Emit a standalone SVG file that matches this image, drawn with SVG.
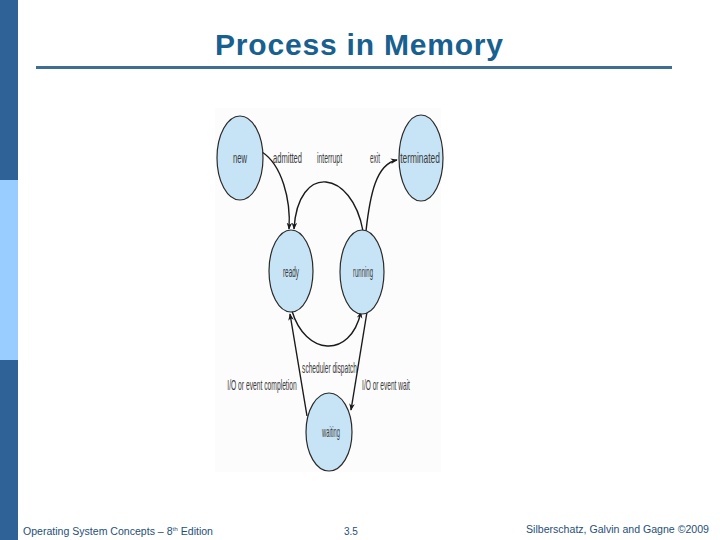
<svg xmlns="http://www.w3.org/2000/svg" width="720" height="540" viewBox="0 0 720 540">
<style>
.node ellipse{fill:#c6e4f6;stroke:#2a2a2a;stroke-width:1.2}
.node text,.lbl{font-family:"Liberation Sans",Arial,sans-serif;font-size:14px;fill:#3a3a3a;text-anchor:middle}
.edge{fill:none;stroke:#1a1a1a;stroke-width:1.4;marker-end:url(#arr)}
.foot{font-family:"Liberation Sans",Arial,sans-serif;font-size:10px;fill:#1f4f7a}
</style>
<defs>
<marker id="arr" viewBox="0 0 10 10" refX="9" refY="5" markerWidth="7" markerHeight="7" orient="auto" markerUnits="userSpaceOnUse">
<path d="M0,1 L10,5 L0,9 L3,5 Z" fill="#1a1a1a"/>
</marker>
</defs>
<rect width="720" height="540" fill="#ffffff"/>
<rect x="0" y="0" width="18" height="180" fill="#2f6296"/>
<rect x="0" y="180" width="18" height="180" fill="#99ccff"/>
<rect x="0" y="360" width="18" height="180" fill="#2f6296"/>
<text x="359" y="55" font-family="Liberation Sans,Arial,sans-serif" font-size="30" font-weight="bold" fill="#17608f" text-anchor="middle" textLength="288" lengthAdjust="spacing">Process in Memory</text>
<rect x="36" y="66" width="636" height="3" fill="#3f6d93"/>
<rect x="215" y="108" width="226" height="364" fill="#fcfcfc"/>
<g id="connectors">
<path class="edge" d="M262,152 C282,165 291,200 289,229"/>
<path class="edge" d="M363,231 C352,170 298,162 294,229"/>
<path class="edge" d="M366,231 C370,195 376,164 397,160"/>
<path class="edge" d="M292,311 C305,355 350,360 361,312"/>
<path class="edge" d="M307,416 L290,314"/>
<path class="edge" d="M367,312 L351,410"/>
</g>
<g id="labels">
<text class="lbl" transform="translate(287.5,163) scale(0.54,1)">admitted</text>
<text class="lbl" transform="translate(329.5,163) scale(0.49,1)">interrupt</text>
<text class="lbl" transform="translate(375,163) scale(0.46,1)">exit</text>
<text class="lbl" transform="translate(329.5,373) scale(0.47,1)">scheduler dispatch</text>
<text class="lbl" transform="translate(262,390) scale(0.48,1)">I/O or event completion</text>
<text class="lbl" transform="translate(386,390) scale(0.47,1)">I/O or event wait</text>
</g>
<g id="new" class="node"><ellipse cx="240" cy="158" rx="23" ry="42"/><text transform="translate(240,163) scale(0.55,1)">new</text></g>
<g id="terminated" class="node"><ellipse cx="421" cy="158" rx="22" ry="43"/><text transform="translate(420,163) scale(0.6,1)">terminated</text></g>
<g id="ready" class="node"><ellipse cx="291" cy="271" rx="22" ry="41"/><text transform="translate(291,277) scale(0.46,1)">ready</text></g>
<g id="running" class="node"><ellipse cx="362" cy="272" rx="22" ry="42"/><text transform="translate(363,277) scale(0.43,1)">running</text></g>
<g id="waiting" class="node"><ellipse cx="329" cy="432" rx="23" ry="39"/><text transform="translate(331,437) scale(0.41,1)">waiting</text></g>
<text class="foot" x="23" y="535" textLength="190" lengthAdjust="spacingAndGlyphs">Operating System Concepts – 8<tspan font-size="6" dy="-4">th</tspan><tspan dy="4"> Edition</tspan></text>
<text class="foot" x="344" y="535">3.5</text>
<text class="foot" x="526" y="533" font-size="11" textLength="183" lengthAdjust="spacingAndGlyphs">Silberschatz, Galvin and Gagne ©2009</text>
</svg>
